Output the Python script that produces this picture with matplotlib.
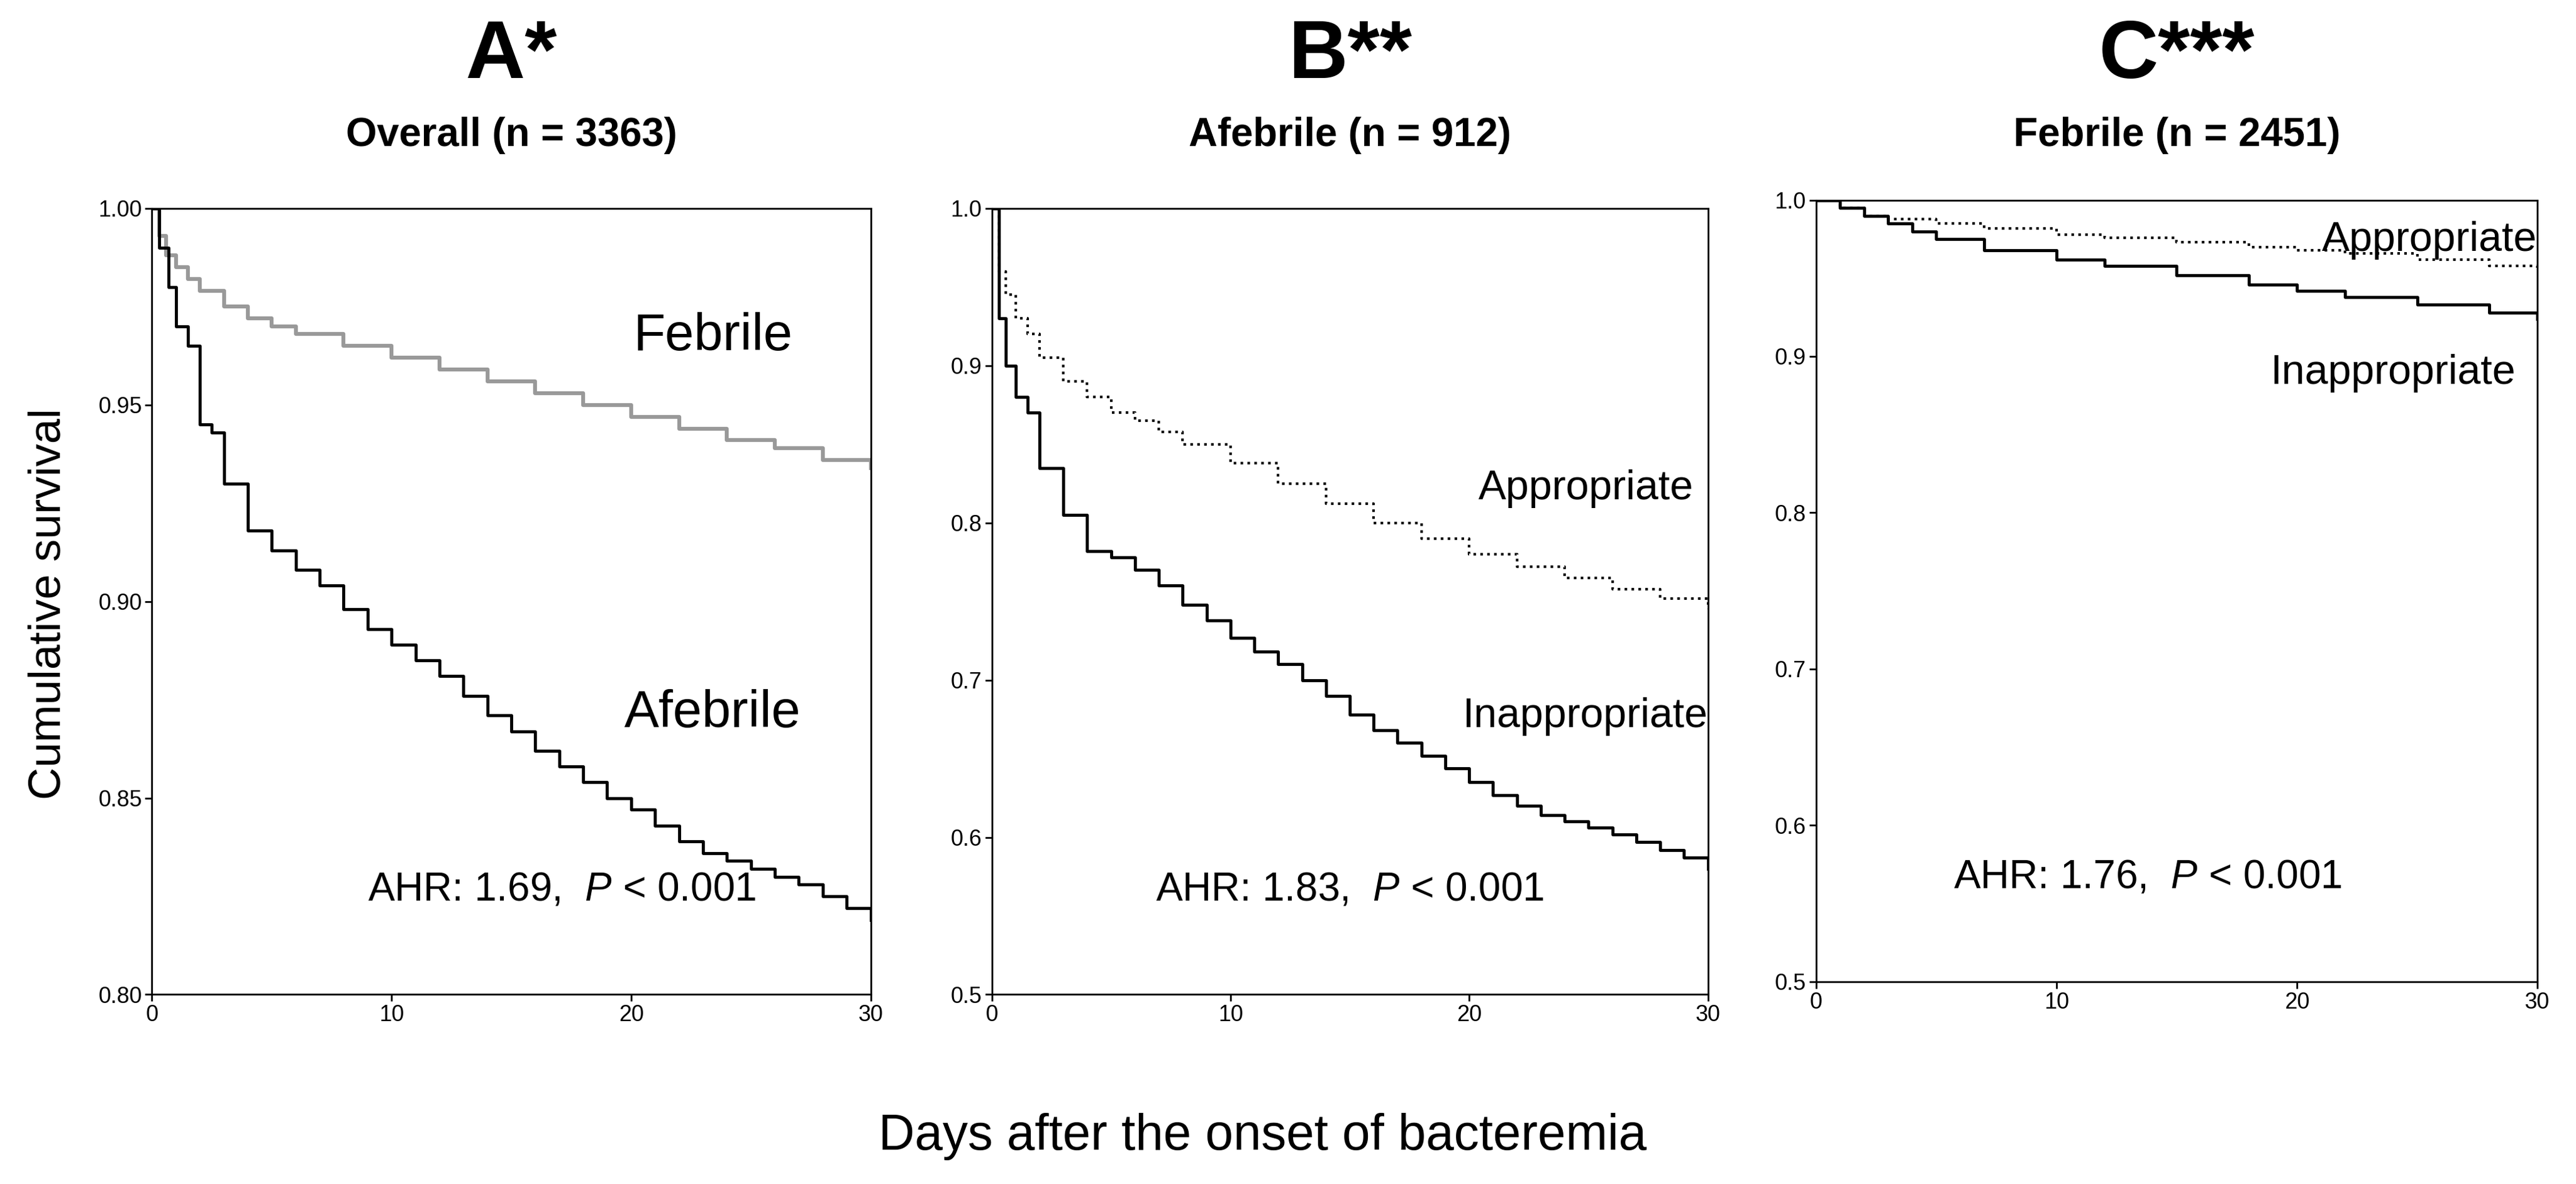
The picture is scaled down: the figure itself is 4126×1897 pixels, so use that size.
import matplotlib
matplotlib.use("Agg")
import matplotlib.pyplot as plt
plt.rcParams['font.family'] = ['Liberation Sans', 'DejaVu Sans']
plt.rcParams['mathtext.fontset'] = 'custom'
plt.rcParams['mathtext.it'] = 'Liberation Sans:italic'

a_feb_t = [0, 0.3, 0.6, 1, 1.5, 2, 3, 4, 5, 6, 8, 10, 12, 14, 16, 18, 20, 22, 24, 26, 28, 30]
a_feb_s = [1.0, 0.993, 0.988, 0.985, 0.982, 0.979, 0.975, 0.972, 0.970, 0.968, 0.965, 0.962, 0.959, 0.956, 0.953, 0.950, 0.947, 0.944, 0.941, 0.939, 0.936, 0.934]
a_afe_t = [0, 0.3, 0.7, 1, 1.5, 2, 2.5, 3, 4, 5, 6, 7, 8, 9, 10, 11, 12, 13, 14, 15, 16, 17, 18, 19, 20, 21, 22, 23, 24, 25, 26, 27, 28, 29, 30]
a_afe_s = [1.0, 0.99, 0.98, 0.97, 0.965, 0.945, 0.943, 0.930, 0.918, 0.913, 0.908, 0.904, 0.898, 0.893, 0.889, 0.885, 0.881, 0.876, 0.871, 0.867, 0.862, 0.858, 0.854, 0.850, 0.847, 0.843, 0.839, 0.836, 0.834, 0.832, 0.830, 0.828, 0.825, 0.822, 0.819]
b_app_t = [0, 0.3, 0.6, 1, 1.5, 2, 3, 4, 5, 6, 7, 8, 10, 12, 14, 16, 18, 20, 22, 24, 26, 28, 30]
b_app_s = [1.0, 0.96, 0.945, 0.93, 0.92, 0.905, 0.89, 0.88, 0.87, 0.865, 0.858, 0.85, 0.838, 0.825, 0.812, 0.80, 0.79, 0.78, 0.772, 0.765, 0.758, 0.752, 0.745]
b_ina_t = [0, 0.3, 0.6, 1, 1.5, 2, 3, 4, 5, 6, 7, 8, 9, 10, 11, 12, 13, 14, 15, 16, 17, 18, 19, 20, 21, 22, 23, 24, 25, 26, 27, 28, 29, 30]
b_ina_s = [1.0, 0.93, 0.90, 0.88, 0.87, 0.835, 0.805, 0.782, 0.778, 0.77, 0.76, 0.748, 0.738, 0.727, 0.718, 0.71, 0.70, 0.69, 0.678, 0.668, 0.66, 0.652, 0.644, 0.635, 0.627, 0.62, 0.614, 0.61, 0.606, 0.602, 0.597, 0.592, 0.587, 0.58]
c_app_t = [0, 1, 2, 3, 5, 7, 10, 12, 15, 18, 20, 22, 25, 28, 30]
c_app_s = [1.0, 0.995, 0.99, 0.988, 0.985, 0.982, 0.978, 0.976, 0.973, 0.970, 0.968, 0.966, 0.962, 0.958, 0.955]
c_ina_t = [0, 1, 2, 3, 4, 5, 7, 10, 12, 15, 18, 20, 22, 25, 28, 30]
c_ina_s = [1.0, 0.995, 0.99, 0.985, 0.98, 0.975, 0.968, 0.962, 0.958, 0.952, 0.946, 0.942, 0.938, 0.933, 0.928, 0.924]

fig = plt.figure(figsize=(41.26, 18.97), dpi=100)
axA = fig.add_axes([0.059, 0.160, 0.279, 0.664])
axB = fig.add_axes([0.385, 0.160, 0.278, 0.664])
axC = fig.add_axes([0.705, 0.171, 0.280, 0.660])

def style(ax, ylim, yticks, ylabels):
    ax.set_xlim(0, 30); ax.set_ylim(*ylim)
    ax.set_xticks([0, 10, 20, 30]); ax.set_yticks(yticks); ax.set_yticklabels(ylabels)
    ax.tick_params(labelsize=26, width=2, length=8)
    for s in ax.spines.values():
        s.set_linewidth(2)

axA.step(a_feb_t, a_feb_s, where='post', color='#999999', lw=4.5)
axA.step(a_afe_t, a_afe_s, where='post', color='black', lw=3.5)
style(axA, (0.80, 1.0), [0.80, 0.85, 0.90, 0.95, 1.00], ["0.80", "0.85", "0.90", "0.95", "1.00"])
axA.text(0.78, 0.82, "Febrile", transform=axA.transAxes, fontsize=60, ha='center')
axA.text(0.78, 0.34, "Afebrile", transform=axA.transAxes, fontsize=60, ha='center')
axA.text(0.57, 0.12, r"AHR: 1.69,  $\it{P}$ < 0.001", transform=axA.transAxes, fontsize=46, ha='center')

axB.step(b_app_t, b_app_s, where='post', color='black', lw=3, ls=':')
axB.step(b_ina_t, b_ina_s, where='post', color='black', lw=3.5)
style(axB, (0.5, 1.0), [0.5, 0.6, 0.7, 0.8, 0.9, 1.0], ["0.5", "0.6", "0.7", "0.8", "0.9", "1.0"])
axB.text(0.98, 0.63, "Appropriate", transform=axB.transAxes, fontsize=48, ha='right')
axB.text(1.0, 0.34, "Inappropriate", transform=axB.transAxes, fontsize=48, ha='right')
axB.text(0.5, 0.12, r"AHR: 1.83,  $\it{P}$ < 0.001", transform=axB.transAxes, fontsize=46, ha='center')

axC.step(c_app_t, c_app_s, where='post', color='black', lw=3, ls=':')
axC.step(c_ina_t, c_ina_s, where='post', color='black', lw=3.5)
style(axC, (0.5, 1.0), [0.5, 0.6, 0.7, 0.8, 0.9, 1.0], ["0.5", "0.6", "0.7", "0.8", "0.9", "1.0"])
axC.text(1.0, 0.935, "Appropriate", transform=axC.transAxes, fontsize=48, ha='right')
axC.text(0.97, 0.765, "Inappropriate", transform=axC.transAxes, fontsize=48, ha='right')
axC.text(0.46, 0.12, r"AHR: 1.76,  $\it{P}$ < 0.001", transform=axC.transAxes, fontsize=46, ha='center')

for ax, big, sub in [(axA, "A*", "Overall (n = 3363)"), (axB, "B**", "Afebrile (n = 912)"), (axC, "C***", "Febrile (n = 2451)")]:
    cx = (ax.get_position().x0 + ax.get_position().x1) / 2
    fig.text(cx, 0.92, big, fontsize=95, fontweight='bold', ha='center', va='bottom')
    fig.text(cx, 0.87, sub, fontsize=46, fontweight='bold', ha='center', va='bottom')

fig.text(0.019, 0.49, "Cumulative survival", rotation=90, fontsize=52, ha='center', va='center')
fig.text(0.49, 0.04, "Days after the onset of bacteremia", fontsize=58, ha='center', va='center')

fig.savefig("out.png", dpi=100)
